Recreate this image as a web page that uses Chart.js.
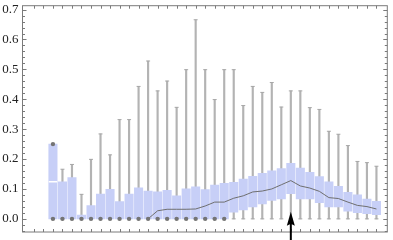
<!DOCTYPE html>
<html>
<head>
<meta charset="utf-8">
<script src="https://cdn.jsdelivr.net/npm/chart.js@4"></script>
<style>
  body { margin: 0; background: #fff; }
  #wrap { width: 393px; height: 240px; }
</style>
</head>
<body>
<div id="wrap"><canvas id="chart"></canvas></div>
<script>
// Kategorier (en boks per kategori)
const cats = [1, 2, 3, 4, 5, 6, 7, 8, 9, 10, 11, 12, 13, 14, 15, 16, 17, 18, 19, 20,
  21, 22, 23, 24, 25, 26, 27, 28, 29, 30, 31, 32, 33, 34, 35];

// Nedre og øvre kvartil
const q1 = [0, 0, 0, 0, 0, 0, 0, 0, 0, 0, 0, 0, 0, 0, 0, 0, 0, 0, 0, 0.022,
  0.03, 0.04, 0.05, 0.062, 0.067, 0.084, 0.067, 0.067, 0.054, 0.04, 0.04, 0.026, 0.021, 0.017, 0.014];
const q3 = [0.25, 0.124, 0.138, 0.013, 0.044, 0.083, 0.099, 0.058, 0.083, 0.104, 0.093, 0.09, 0.095, 0.077, 0.1, 0.107, 0.098, 0.113, 0.119, 0.122,
  0.133, 0.142, 0.152, 0.161, 0.168, 0.186, 0.17, 0.156, 0.141, 0.124, 0.109, 0.089, 0.08, 0.066, 0.059];

// Værhårene (min og maks)
const whiskerLo = [0, 0, 0, 0, 0, 0, 0, 0, 0, 0, 0, 0, 0, 0, 0, 0, 0, 0, 0, 0,
  0, 0, 0, 0, 0, 0, 0, 0, 0, 0, 0, 0, 0, 0, 0];
const whiskerHi = [0.25, 0.166, 0.182, 0.082, 0.199, 0.284, 0.214, 0.332, 0.332, 0.443, 0.528, 0.428, 0.461, 0.373, 0.499, 0.666, 0.499, 0.399, 0.499, 0.499,
  0.379, 0.443, 0.423, 0.456, 0.374, 0.428, 0.428, 0.372, 0.366, 0.293, 0.283, 0.245, 0.192, 0.188, 0.176];

// Hvit medianstrek (bare synlig der den ligger over kvartilen)
const medians = [0.124, 0, 0, 0, 0, 0, 0, 0, 0, 0, 0, 0, 0, 0, 0, 0, 0, 0, 0, 0,
  0, 0, 0, 0, 0, 0, 0, 0, 0, 0, 0, 0, 0, 0, 0];

// Punkter (uteliggere)
const outlierCats = [1, 1, 2, 3, 4, 5, 6, 7, 8, 9, 10, 11, 12, 13, 14, 15, 16, 17, 18, 19];
const outlierVals = [0.25, 0, 0, 0, 0, 0, 0, 0, 0, 0, 0, 0, 0, 0, 0, 0, 0, 0, 0, 0];

// Den grå kurven
const trendCats = [11, 12, 13, 14, 15, 16, 17, 18, 19, 20, 21, 22, 23, 24, 25, 26, 27, 28, 29, 30, 31, 32, 33, 34, 35];
const trendVals = [0, 0.027, 0.032, 0.032, 0.032, 0.033, 0.043, 0.056, 0.056, 0.069, 0.077, 0.09, 0.093, 0.1, 0.114,
  0.128, 0.11, 0.103, 0.092, 0.071, 0.068, 0.056, 0.045, 0.041, 0.033];

// Aksemerker
const yTicks = [0, 0.1, 0.2, 0.3, 0.4, 0.5, 0.6, 0.7];
const xTicks = [-1, 0, 1, 2, 3, 4, 5, 6, 7, 8, 9, 10, 11, 12, 13, 14, 15, 16, 17, 18, 19, 20,
  21, 22, 23, 24, 25, 26, 27, 28, 29, 30, 31, 32, 33, 34, 35];

// Pilen peker på denne kategorien
const arrowAt = 26;
const arrowTip = 0.024;

const boxes = cats.map((c, i) => ({ x: c, y: [q1[i], q3[i]] }));
const whiskers = cats.map((c, i) => ({ x: c, y: [whiskerLo[i], whiskerHi[i]] }));
const caps = [];
cats.forEach((c, i) => {
  if (whiskerHi[i] > q3[i]) caps.push({ x: c, y: whiskerHi[i] });
  if (whiskerLo[i] < q1[i]) caps.push({ x: c, y: whiskerLo[i] });
});
const medianMarks = cats.map((c, i) => ({ x: c, y: medians[i] > q1[i] ? medians[i] : null }));
const outliers = outlierCats.map((c, i) => ({ x: c, y: outlierVals[i] }));
const trend = trendCats.map((c, i) => ({ x: c, y: trendVals[i] }));

const serif = "Liberation Serif, Times New Roman, DejaVu Serif, serif";

// Ramme med små merker på innsiden, som i Mathematica
const framePlugin = {
  id: "frame",
  afterDatasetsDraw(chart) {
    const { ctx, chartArea: a, scales } = chart;
    const x = scales.x, y = scales.y;
    ctx.save();
    ctx.strokeStyle = "#7a7a7a";
    ctx.lineWidth = 1;
    ctx.strokeRect(a.left, a.top, a.right - a.left, a.bottom - a.top);
    ctx.beginPath();
    xTicks.forEach((t) => {
      const px = Math.round(x.getPixelForValue(t)) + 0.5;
      ctx.moveTo(px, a.bottom);
      ctx.lineTo(px, a.bottom - 3);
      ctx.moveTo(px, a.top);
      ctx.lineTo(px, a.top + 3);
    });
    for (let k = -2; k <= 35; k++) {
      const v = k * 0.02;
      const py = Math.round(y.getPixelForValue(v)) + 0.5;
      if (py < a.top || py > a.bottom) continue;
      const len = k % 5 === 0 ? 4 : 2.5;
      ctx.moveTo(a.left, py);
      ctx.lineTo(a.left + len, py);
      ctx.moveTo(a.right, py);
      ctx.lineTo(a.right - len, py);
    }
    ctx.stroke();
    ctx.restore();
  },
  afterDraw(chart) {
    const { ctx, scales } = chart;
    const px = scales.x.getPixelForValue(arrowAt);
    const tip = scales.y.getPixelForValue(arrowTip);
    ctx.save();
    ctx.fillStyle = "#000";
    ctx.beginPath();
    ctx.moveTo(px, tip);
    ctx.lineTo(px + 4, tip + 14);
    ctx.lineTo(px + 1, tip + 12.5);
    ctx.lineTo(px + 1, chart.height);
    ctx.lineTo(px - 1, chart.height);
    ctx.lineTo(px - 1, tip + 12.5);
    ctx.lineTo(px - 4, tip + 14);
    ctx.closePath();
    ctx.fill();
    ctx.restore();
  },
};

Chart.defaults.font.family = serif;
Chart.defaults.font.size = 13;
Chart.defaults.color = "#222";

new Chart(document.getElementById("chart"), {
  type: "bar",
  data: {
    datasets: [
      {
        type: "line",
        data: outliers,
        showLine: false,
        pointRadius: 2.2,
        pointBackgroundColor: "#747474",
        pointBorderWidth: 0,
        order: 0,
      },
      {
        type: "line",
        data: trend,
        borderColor: "#6f6f6f",
        borderWidth: 1,
        pointRadius: 0,
        tension: 0,
        order: 1,
      },
      {
        type: "line",
        data: medianMarks,
        showLine: false,
        pointStyle: "line",
        pointRadius: 4.2,
        pointBorderColor: "#ffffff",
        pointBorderWidth: 1.5,
        order: 2,
      },
      {
        data: boxes,
        backgroundColor: "#c7cff7",
        barThickness: 8.4,
        grouped: false,
        order: 3,
      },
      {
        type: "line",
        data: caps,
        showLine: false,
        pointStyle: "line",
        pointRadius: 2,
        pointBorderColor: "#a8a8a8",
        pointBorderWidth: 1,
        order: 4,
      },
      {
        data: whiskers,
        backgroundColor: "#b3b3b3",
        barThickness: 1.5,
        grouped: false,
        order: 5,
      },
    ],
  },
  options: {
    responsive: true,
    maintainAspectRatio: false,
    animation: false,
    events: [],
    layout: { padding: { left: 0, right: 2, top: 5, bottom: 8 } },
    plugins: { legend: { display: false }, tooltip: { enabled: false } },
    scales: {
      x: {
        type: "linear",
        min: -2.2,
        max: 36.14,
        offset: false,
        display: false,
      },
      y: {
        min: -0.044,
        max: 0.713,
        grid: { display: false, drawTicks: false },
        border: { display: false },
        ticks: {
          padding: 4,
          font: { family: serif, size: 13 },
          color: "#222",
          callback: (v) => v.toFixed(1),
        },
        afterBuildTicks: (s) => {
          s.ticks = yTicks.map((v) => ({ value: v }));
        },
        afterFit: (s) => {
          s.width = 22.5;
          s.paddingTop = 0;
          s.paddingBottom = 0;
        },
      },
    },
  },
  plugins: [framePlugin],
});
</script>
</body>
</html>
